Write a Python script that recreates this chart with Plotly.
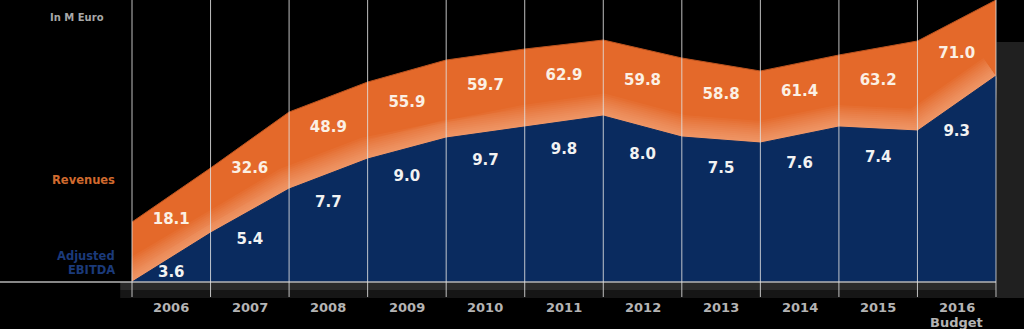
import plotly.graph_objects as go

# ---- data ----
years = ["2006", "2007", "2008", "2009", "2010", "2011", "2012", "2013", "2014", "2015", "2016"]
revenues = [18.1, 32.6, 48.9, 55.9, 59.7, 62.9, 59.8, 58.8, 61.4, 63.2, 71.0]
ebitda = [3.6, 5.4, 7.7, 9.0, 9.7, 9.8, 8.0, 7.5, 7.6, 7.4, 9.3]
# stylised band heights at the year boundaries (chart display units)
revenue_band_top = [60, 114, 170, 200, 222, 233, 242, 224, 211, 227, 241, 282]
ebitda_band_top = [0, 49, 93, 123, 144, 155, 166, 145, 139, 155, 151, 206]

ORANGE = "#E4692A"
BLUE = "#0A2B5F"

n = len(years)
bx = list(range(n + 1))                 # boundaries
cx = [i + 0.5 for i in range(n)]        # centres

fig = go.Figure()

# orange revenue band
fig.add_trace(go.Scatter(x=bx, y=revenue_band_top, mode="lines", fill="tozeroy",
                         fillcolor=ORANGE, line=dict(color="#B9521F", width=1),
                         hoverinfo="skip", showlegend=False))
# soft light glow along the lower edge of the orange band
for w in range(44, 2, -4):
    fig.add_trace(go.Scatter(x=bx, y=ebitda_band_top, mode="lines",
                             line=dict(color="rgba(255,205,165,0.06)", width=w),
                             hoverinfo="skip", showlegend=False))
# blue EBITDA band
fig.add_trace(go.Scatter(x=bx, y=ebitda_band_top, mode="lines", fill="tozeroy",
                         fillcolor=BLUE, line=dict(color=BLUE, width=1),
                         hoverinfo="skip", showlegend=False))

# value labels
o_mid = [(revenue_band_top[i] + revenue_band_top[i + 1]) / 2 for i in range(n)]
b_mid = [(ebitda_band_top[i] + ebitda_band_top[i + 1]) / 2 for i in range(n)]
rev_label_y = [o - 0.41 * (o - b) for o, b in zip(o_mid, b_mid)]
ebit_label_y = [b - min(29, 0.63 * b) for b in b_mid]

fig.add_trace(go.Scatter(x=cx, y=rev_label_y, mode="text",
                         text=[f"{v:.1f}" for v in revenues], texttemplate="<b>%{text}</b>",
                         textfont=dict(family="DejaVu Sans", size=15, color="#FBF0E4"),
                         hoverinfo="skip", showlegend=False))
fig.add_trace(go.Scatter(x=cx, y=ebit_label_y, mode="text",
                         text=[f"{v:.1f}" for v in ebitda], texttemplate="<b>%{text}</b>",
                         textfont=dict(family="DejaVu Sans", size=15, color="#F2F2F2"),
                         hoverinfo="skip", showlegend=False))

XL = -132 / 78.545
XR = (1024 - 132) / 78.545

shapes = []
# covers to trim glow spill at the ends
shapes.append(dict(type="rect", xref="x", yref="y", x0=XL, x1=-0.006, y0=0, y1=282,
                   fillcolor="black", line=dict(width=0), layer="above"))
shapes.append(dict(type="rect", xref="x", yref="y", x0=XL, x1=-0.15, y0=-47, y1=0,
                   fillcolor="black", line=dict(width=0), layer="above"))
shapes.append(dict(type="rect", xref="x", yref="y", x0=n + 0.006, x1=XR, y0=240, y1=282,
                   fillcolor="black", line=dict(width=0), layer="above"))
shapes.append(dict(type="rect", xref="x", yref="y", x0=n + 0.006, x1=XR, y0=-16, y1=240,
                   fillcolor="#202020", line=dict(width=0), layer="above"))
# dark band under baseline
shapes.append(dict(type="rect", xref="x", yref="y", x0=-0.15, x1=n, y0=-8, y1=0,
                   fillcolor="#2a2a2a", line=dict(width=0), layer="above"))
shapes.append(dict(type="rect", xref="x", yref="y", x0=-0.15, x1=n, y0=-16, y1=-8,
                   fillcolor="#161616", line=dict(width=0), layer="above"))
shapes.append(dict(type="rect", xref="x", yref="y", x0=-0.15, x1=n, y0=-47, y1=-16,
                   fillcolor="black", line=dict(width=0), layer="above"))
# baseline
shapes.append(dict(type="line", xref="x", yref="y", x0=XL, x1=n, y0=0, y1=0,
                   line=dict(color="#b5b5b5", width=1.5), layer="above"))
# vertical separators
for x in bx:
    shapes.append(dict(type="line", xref="x", yref="y", x0=x, x1=x, y0=-15, y1=290,
                       line=dict(color="rgba(225,225,225,0.85)", width=1), layer="above"))

annotations = []
for i, yr in enumerate(years):
    annotations.append(dict(x=cx[i], y=-25, xref="x", yref="y", text=f"<b>{yr}</b>",
                            showarrow=False, font=dict(family="DejaVu Sans", size=13, color="#b4b4b4")))
annotations.append(dict(x=cx[-1], y=-40, xref="x", yref="y", text="<b>Budget</b>",
                        showarrow=False, font=dict(family="DejaVu Sans", size=13, color="#b4b4b4")))
annotations.append(dict(x=-0.70, y=265, xref="x", yref="y", text="<b>In M Euro</b>",
                        showarrow=False, font=dict(family="DejaVu Sans", size=10, color="#a8a8a8")))
annotations.append(dict(x=-0.19, y=102, xref="x", yref="y", text="<b>Revenues</b>", xanchor="right",
                        showarrow=False, font=dict(family="DejaVu Sans", size=11.5, color="#D06A2E")))
annotations.append(dict(x=-0.19, y=26, xref="x", yref="y", text="<b>Adjusted</b>", xanchor="right",
                        showarrow=False, font=dict(family="DejaVu Sans", size=11.5, color="#1B3A7A")))
annotations.append(dict(x=-0.19, y=12, xref="x", yref="y", text="<b>EBITDA</b>", xanchor="right",
                        showarrow=False, font=dict(family="DejaVu Sans", size=11.5, color="#1B3A7A")))

fig.update_layout(
    width=1024, height=329,
    margin=dict(l=0, r=0, t=0, b=0),
    paper_bgcolor="black", plot_bgcolor="black",
    xaxis=dict(range=[XL, XR], visible=False, fixedrange=True),
    yaxis=dict(range=[-47, 282], visible=False, fixedrange=True),
    shapes=shapes, annotations=annotations,
    showlegend=False,
)

fig.write_html("out.html", config={"displayModeBar": False})
